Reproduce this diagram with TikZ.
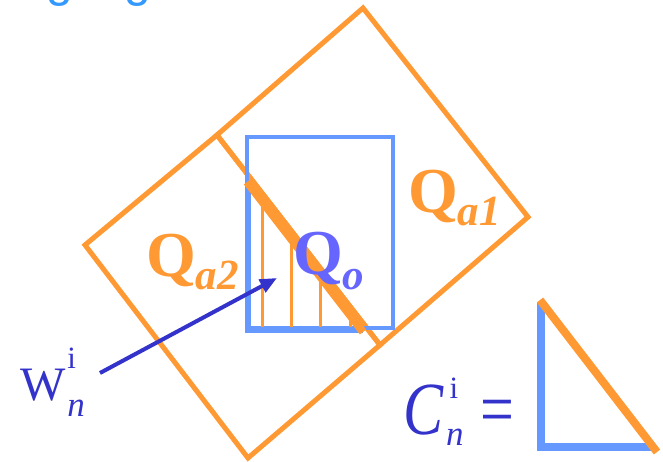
\documentclass[tikz,border=0pt]{standalone}
\usepackage{fontspec}
\setmainfont{Liberation Serif}
\newfontfamily\titlefont{Liberation Sans}
\usetikzlibrary{arrows.meta}
\definecolor{qorange}{RGB}{255,153,51}
\definecolor{qblue}{RGB}{102,153,255}
\definecolor{qdark}{RGB}{51,51,204}
\definecolor{qviolet}{RGB}{102,102,255}
\definecolor{qtitle}{RGB}{51,153,255}
\tikzset{
  orangebox/.style={draw=qorange, line width=5pt, line join=miter},
  hatchline/.style={draw=qorange, line width=3pt},
  thickorange/.style={draw=qorange, line width=8pt},
  thickblue/.style={draw=qblue, line width=6.5pt},
  thinblue/.style={draw=qblue, line width=3.5pt},
  lbl/.style={anchor=base west, inner sep=0pt, outer sep=0pt},
  pointer/.style={draw=qdark, line width=4pt, -{Triangle[length=17pt,width=14pt]}}
}
\begin{document}
\begin{tikzpicture}[x=1pt,y=-1pt]
\useasboundingbox (0,0) rectangle (663,462);
% cropped title fragment
\begin{scope}
\clip (0,0) rectangle (663,12);
\node[lbl, text=qtitle, font=\titlefont\fontsize{48}{48}\selectfont] (title) at (46,-3.5) {g\hspace{52pt}g};
\end{scope}
% two orange rectangles
\draw[orangebox] (363,8) -- (528,217) -- (380,345) -- (217,135) -- cycle;
\draw[orangebox] (217,135) -- (380,345) -- (248,458) -- (85,245) -- cycle;
% blue rectangle Q_o
\draw[thinblue] (247,137) rectangle (393,328);
% hatching
\draw[hatchline] (262,201) -- (262,329);
\draw[hatchline] (291,239) -- (291,329);
\draw[hatchline] (320,276) -- (320,329);
\draw[hatchline] (350,315) -- (350,329);
% intersection triangle
\draw[thickblue] (248,185) -- (248,330) -- (363,330);
\draw[thickorange] (247,182) -- (363,332);
% labels
\node[lbl, text=qorange] (qa1) at (408,213) {\fontsize{64}{64}\selectfont\bfseries Q\raisebox{-13pt}{\fontsize{43}{43}\selectfont\itshape a1}};
\node[lbl, text=qorange] (qa2) at (146,276) {\fontsize{64}{64}\selectfont\bfseries Q\raisebox{-13pt}{\fontsize{43}{43}\selectfont\itshape a2}};
\node[lbl, text=qviolet] (qo) at (293,274) {\fontsize{64}{64}\selectfont\bfseries Q\raisebox{-15pt}{\fontsize{43}{43}\selectfont\itshape o}};
% W label and arrow
\node[lbl, text=qdark] (w) at (20,400) {\fontsize{48}{48}\selectfont W\hspace{2pt}\rlap{\raisebox{32pt}{\fontsize{31}{31}\selectfont i}}\raisebox{-16pt}{\fontsize{35}{35}\selectfont\itshape n}};
\coordinate (wstart) at (100,373);
\coordinate (wtip) at (277,278);
\draw[pointer] (wstart) -- (wtip);
% C label
\node[lbl, text=qdark] (c) at (403,434) {\scalebox{0.8}[1]{\fontsize{75}{75}\selectfont\itshape C}\hspace{3pt}\rlap{\hspace{3.5pt}\raisebox{36pt}{\fontsize{31}{31}\selectfont i}}\raisebox{-11pt}{\fontsize{35}{35}\selectfont\itshape n}\hspace{16.5pt}\scalebox{0.8}[1]{\fontsize{75}{75}\selectfont =}};
% right triangle symbol
\draw[draw=qblue, line width=7.5pt] (541,303) -- (541,447) -- (652,447);
\draw[thickorange] (540,300) -- (657,452);
\end{tikzpicture}
\end{document}
